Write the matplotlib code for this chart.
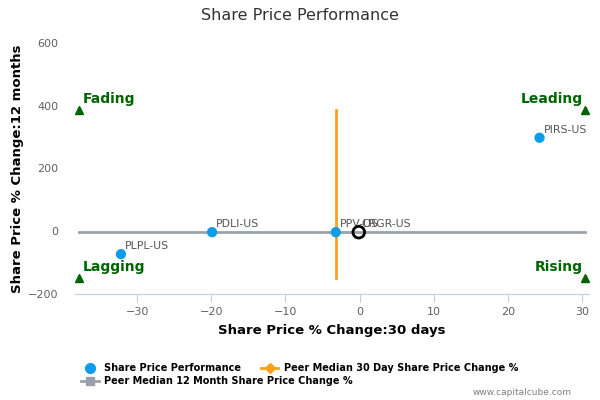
import matplotlib
matplotlib.use("Agg")
import matplotlib.pyplot as plt
from matplotlib.lines import Line2D

# Data
names = ["PIRS-US", "PDLI-US", "PPV-US", "PLPL-US"]
x30 = [24.3, -19.9, -3.2, -32.2]
y12 = [298, -3, -3, -73]
company = "CRGR-US"
company_x = -0.1
company_y = -3
median_30d = -3.2
median_12m = -3
quad_x = [-37.8, 30.4]
quad_y = [-150, 385]
quad_labels = ["Fading", "Leading", "Lagging", "Rising"]
xticks = [-30, -20, -10, 0, 10, 20, 30]
yticks = [-200, 0, 200, 400, 600]

fig = plt.figure(figsize=(6, 4), dpi=100)
ax = fig.add_axes([0.125, 0.265, 0.857, 0.6275])
ax.set_xlim(-38.4, 31.0)
ax.set_ylim(-200, 600)

green = "#006400"
# median lines
ax.plot([median_30d, median_30d], quad_y, color="#f7a21b", lw=2, zorder=2)
ax.plot(quad_x, [median_12m, median_12m], color="#9aa0aa", lw=2, zorder=2)

# quadrant markers
for qx in quad_x:
    for qy in quad_y:
        ax.plot(qx, qy, marker="^", color=green, ms=6, ls="none", zorder=3)
fs_q = 10
ax.annotate(quad_labels[0], (quad_x[0], quad_y[1]), xytext=(3, 4), textcoords="offset pixels",
            ha="left", va="bottom", color=green, fontweight="bold", fontsize=fs_q)
ax.annotate(quad_labels[1], (quad_x[1], quad_y[1]), xytext=(-2, 4), textcoords="offset pixels",
            ha="right", va="bottom", color=green, fontweight="bold", fontsize=fs_q)
ax.annotate(quad_labels[2], (quad_x[0], quad_y[0]), xytext=(3, 4), textcoords="offset pixels",
            ha="left", va="bottom", color=green, fontweight="bold", fontsize=fs_q)
ax.annotate(quad_labels[3], (quad_x[1], quad_y[0]), xytext=(-2, 4), textcoords="offset pixels",
            ha="right", va="bottom", color=green, fontweight="bold", fontsize=fs_q)

# peers
ax.scatter(x30, y12, s=55, color="#0d9de8", zorder=4, edgecolors="none")
for n, xv, yv in zip(names, x30, y12):
    ax.annotate(n, (xv, yv), xytext=(4, 3), textcoords="offset pixels",
                ha="left", va="bottom", color="#555555", fontsize=7.8)
# company
ax.scatter([company_x], [company_y], s=70, facecolors="none", edgecolors="black",
           linewidths=2, zorder=5)
ax.annotate(company, (company_x, company_y), xytext=(3, 3), textcoords="offset pixels",
            ha="left", va="bottom", color="#555555", fontsize=7.8)

# axes styling
for s in ["top", "right", "left"]:
    ax.spines[s].set_visible(False)
ax.spines["bottom"].set_color("#c0d0e0")
ax.set_xticks(xticks)
ax.set_yticks(yticks)
ax.tick_params(axis="x", colors="#c0d0e0", length=6, labelcolor="#606060", labelsize=8)
ax.tick_params(axis="y", length=0, labelcolor="#606060", labelsize=8, pad=12)
ax.set_xlabel("Share Price % Change:30 days", fontweight="bold", fontsize=9.5, labelpad=5)
ax.set_ylabel("Share Price % Change:12 months", fontweight="bold", fontsize=9.5, labelpad=3)

fig.text(0.5, 0.96, "Share Price Performance", ha="center", va="center",
         fontsize=11.5, color="#333333")

# legend
h1 = Line2D([], [], marker="o", color="#0d9de8", ls="none", ms=7)
h2 = Line2D([], [], marker="D", color="#f7a21b", lw=2, ms=5)
h3 = Line2D([], [], marker="s", color="#9aa0aa", lw=2, ms=6)
fig.legend([h1, h2], ["Share Price Performance", "Peer Median 30 Day Share Price Change %"],
           loc="center left", bbox_to_anchor=(0.135, 0.08), ncol=2, frameon=False,
           prop={"weight": "bold", "size": 7}, handlelength=1.8, columnspacing=2.0,
           handletextpad=0.6, borderaxespad=0, borderpad=0)
fig.legend([h3], ["Peer Median 12 Month Share Price Change %"],
           loc="center left", bbox_to_anchor=(0.135, 0.047), frameon=False,
           prop={"weight": "bold", "size": 7}, handlelength=1.8, handletextpad=0.6,
           borderaxespad=0, borderpad=0)
fig.text(0.953, 0.018, "www.capitalcube.com", ha="right", va="center", fontsize=6.5, color="#808080")

fig.savefig("out.png", dpi=100)
